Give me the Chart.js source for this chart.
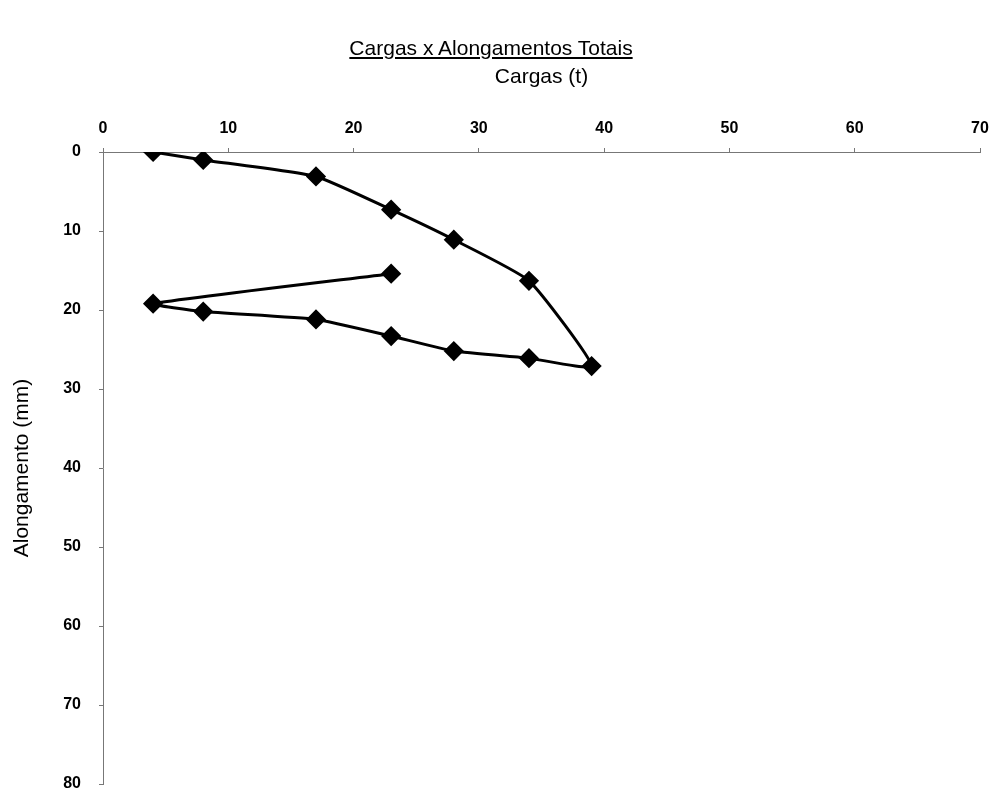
<!DOCTYPE html>
<html lang="pt">
<head>
  <meta charset="UTF-8" />
  <title>Cargas x Alongamentos Totais</title>
  <script src="https://cdn.jsdelivr.net/npm/chart.js"></script>
  <style>
    body {
      margin: 0;
      background: white;
      font-family: 'Liberation Sans', Arial, sans-serif;
    }

    .wrap {
      position: relative;
      width: 997px;
      height: 796px;
    }

    .chart-title {
      position: absolute;
      left: 0;
      top: 36px;
      width: 982px;
      text-align: center;
      font-size: 21px;
      text-decoration: underline;
      color: #000;
    }
  </style>
</head>
<body>
  <div class="wrap">
    <canvas id="myChart" width="997" height="796"></canvas>
    <div class="chart-title">Cargas x Alongamentos Totais</div>
  </div>

  <script>
    // loads (t) and total elongation (mm), in the order of the test
    const cargas = [4, 8, 17, 23, 28, 34, 39, 34, 28, 23, 17, 8, 4, 23];
    const alongamentos = [0, 1.0, 3.1, 7.3, 11.1, 16.3, 27.1, 26.1, 25.2, 23.3, 21.2, 20.2, 19.2, 15.4];

    const xRange = [0, 70];
    const yRange = [0, 80];
    const tickStep = 10;

    const points = cargas.map((c, i) => ({ x: c, y: alongamentos[i] }));

    const axisColor = '#777';
    const tickFont = { family: "'Liberation Sans', Arial, sans-serif", size: 16, weight: 'bold' };
    const titleFont = { family: "'Liberation Sans', Arial, sans-serif", size: 21 };

    const ctx = document.getElementById('myChart').getContext('2d');
    new Chart(ctx, {
      type: 'scatter',
      data: {
        datasets: [{
          data: points,
          showLine: true,
          borderColor: '#000',
          borderWidth: 3,
          tension: 0.15,
          pointStyle: 'rectRot',
          pointRadius: 8,
          pointBackgroundColor: '#000',
          pointBorderColor: '#000'
        }]
      },
      options: {
        responsive: false,
        animation: false,
        layout: { padding: { left: 0, top: 0, right: 17, bottom: 12 } },
        plugins: {
          legend: { display: false },
          tooltip: { enabled: false }
        },
        scales: {
          x: {
            type: 'linear',
            position: 'top',
            min: xRange[0],
            max: xRange[1],
            ticks: { stepSize: tickStep, color: '#000', font: tickFont, padding: 10 },
            grid: { drawOnChartArea: false, tickLength: 4, color: axisColor },
            border: { color: axisColor, width: 1 },
            title: { display: true, text: 'Cargas (t)', color: '#000', font: titleFont, padding: { top: 65, bottom: 0 } },
            afterFit: s => {
              s.height = 152;
              s.paddingLeft = 0;
              s.paddingRight = 0;
            }
          },
          y: {
            type: 'linear',
            position: 'left',
            reverse: true,
            min: yRange[0],
            max: yRange[1],
            ticks: { stepSize: tickStep, color: '#000', font: tickFont, padding: 18 },
            grid: { drawOnChartArea: false, tickLength: 4, color: axisColor },
            border: { color: axisColor, width: 1 },
            title: { display: true, text: 'Alongamento (mm)', color: '#000', font: titleFont, padding: { top: 10, bottom: 0 } },
            afterFit: s => {
              s.width = 103;
              // the label padding would otherwise push the plot bottom up
              s.paddingTop = 0;
              s.paddingBottom = 0;
            }
          }
        }
      }
    });
  </script>
</body>
</html>
